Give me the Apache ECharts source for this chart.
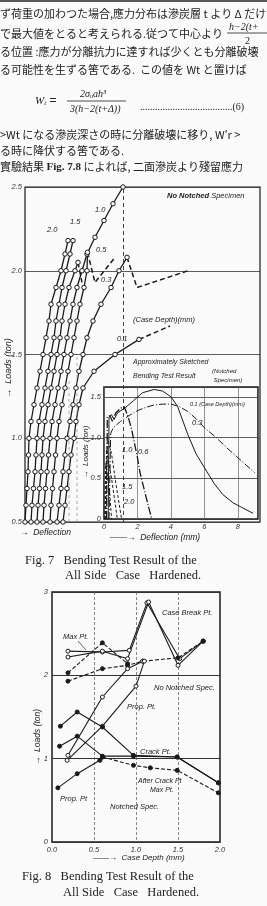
<!DOCTYPE html>
<html><head><meta charset="utf-8">
<script src="https://cdn.jsdelivr.net/npm/echarts@6/dist/echarts.min.js"></script>
<style>html,body{margin:0;padding:0;background:#fbfbfb;}#c{width:267px;height:906px;}</style>
</head><body><div id="c"></div>
<script>
// ---------- Fig.7 main (No Notched Specimen): load (ton) vs deflection (arbitrary units) ----------
const loadsA = [0.5,0.6,0.7,0.8,0.9,1.0,1.1,1.2,1.3,1.4,1.5,1.6,1.7,1.8,1.9,2.0,2.1,2.18];
const deflCD20 = [0,1,2,3,3.5,4,6,9,12,15,18,21,24,26,31,36,40,43];
const deflCD15 = [6,7,8.5,10,11,12,14,17,20,23,26,29,31,34,37,41,45,48];
const loadsCD12 = [0.5,0.6,0.7,0.8,0.9,1.0,1.1,1.2,1.3,1.4,1.5,1.6,1.7,1.8,1.9,2.0,2.05];
const deflCD12 = [12,13,14.5,16,17,18,20,23,26,29,32,35,37,40,44,50,53];
const loadsCD10 = [0.5,0.6,0.7,0.8,0.9,1.0,1.1,1.2,1.3,1.4,1.5,1.6,1.7,1.8,1.9,2.0,2.1,2.2,2.3,2.4,2.5];
const deflCD10 = [18,19,20.5,22,23.5,25,27,30,33,36,39,42,45,48,52,57,62,70,79,88,98];
const loadsCD05 = [0.5,0.6,0.7,0.8,0.9,1.0,1.1,1.2,1.3,1.4,1.5,1.6,1.7,1.8,1.9,2.0,2.11];
const deflCD05 = [25,26,27.5,29,30.5,32,34,37,40,43,46,49,52,55,59,62,62.5];
const loadsCD03 = [0.5,0.6,0.7,0.8,0.9,1.0,1.1,1.2,1.3,1.4,1.5,1.6,1.7,1.8,1.9,2.0,2.08];
const deflCD03 = [32,34,36,38,40,42,45,48,51,54,58,62,68,76,86,94,102];
const loadsCD01 = [0.5,0.6,0.7,0.8,0.9,1.0,1.1,1.2,1.3,1.4,1.5,1.59];
const deflCD01 = [38,40,42,44,46,49,51,54,58,69,90,114];
const tailCD12 = [[53,2.05],[57,1.93]];
const tailCD05 = [[62.5,2.11],[70,1.93],[90,2.08]];
const tailCD03 = [[102,2.08],[112,1.90],[163,2.0]];
const tailCD01 = [[114,1.59],[145,1.67]];
const guideA = [[44,0.5],[44,1.35]];
const guideB = [[52,0.5],[52,1.5]];
const guideDefl = [98];
const mainLoadTicks = ['0.5','1.0','1.5','2.0','2.5'];

// ---------- Fig.7 inset (Notched Specimen): deflection (mm) vs load (ton) ----------
const insCD01 = [[0.3,0],[0.4,1.05],[0.55,1.12],[1.0,1.2],[1.5,1.27],[2.0,1.33],[2.5,1.37],[3.0,1.4],[3.5,1.41],[4.0,1.41],[4.5,1.38],[5.0,1.32],[5.5,1.23],[6.0,1.12],[6.7,1.0],[7.3,0.88],[7.9,0.77],[8.5,0.66],[9.0,0.57]];
const insCD03 = [[0.25,0],[0.3,1.25],[0.45,1.28],[0.6,1.22],[0.8,1.3],[1.3,1.37],[1.75,1.45],[2.3,1.55],[3.0,1.59],[3.5,1.57],[4.0,1.5],[4.4,1.38],[5.0,1.04],[5.5,0.8],[6.15,0.58],[6.6,0.43],[7.1,0.3],[7.7,0.2],[8.25,0.14],[8.9,0.07]];
const insCD06 = [[0.15,0],[0.2,1.25],[0.35,1.27],[0.5,1.2],[0.7,1.3],[1.0,1.36],[1.2,1.38],[1.45,1.25],[1.65,1.1],[2.0,0.75],[2.15,0.57],[2.5,0.28],[2.85,0]];
const insCD10 = [[0.1,0],[0.2,1.0],[0.3,1.02],[0.45,0.8],[0.7,0.45],[1.05,0]];
const insCD15 = [[0.08,0],[0.15,0.85],[0.25,0.87],[0.45,0.5],[0.8,0]];
const insCD20 = [[0.05,0],[0.1,0.68],[0.2,0.7],[0.35,0.3],[0.45,0]];

// ---------- Fig.8: case depth (mm) vs load (ton) ----------
const f8CaseBreakA = [[0.19,2.29],[0.6,2.28],[0.92,2.3],[1.13,2.87],[1.52,2.2],[1.8,2.41]];
const f8CaseBreakB = [[0.19,2.22],[0.6,2.29],[0.9,2.2],[1.15,2.88],[1.5,2.12],[1.8,2.41]];
const f8MaxA = [[0.19,2.03],[0.6,2.39],[0.9,2.14]];
const f8MaxB = [[0.19,1.93],[0.6,2.08],[0.9,2.12],[1.08,2.17],[1.5,2.21],[1.8,2.41]];
const f8PropA = [[0.19,1.04],[0.6,1.74],[0.9,2.08],[1.08,2.17]];
const f8PropB = [[0.18,0.98],[0.6,1.39],[1.0,1.87],[1.1,2.17]];
const f8CrackA = [[0.1,1.39],[0.3,1.56],[0.6,1.38],[0.97,1.04],[1.49,1.02],[1.98,0.71]];
const f8CrackB = [[0.09,1.15],[0.3,1.27],[0.6,1.03],[0.97,1.03],[1.49,1.02],[1.98,0.71]];
const f8AfterCrack = [[0.6,1.02],[0.97,0.92],[1.17,0.89],[1.49,0.86],[1.98,0.59]];
const f8PropNotched = [[0.07,0.65],[0.3,0.82],[0.57,0.98],[0.6,1.02]];

const zip = (xs, ys) => xs.map((x,i)=>[x, ys[i]]);
const INK = '#1a1a1a';
const CJK = '"Noto Sans CJK JP"';
const SERIF = '"Liberation Serif"';
const ITAL = 'italic 7.5px "Liberation Sans"';

function curve(data, opt) {
  return Object.assign({type:'line', data, xAxisIndex:0, yAxisIndex:0, animation:false,
    symbol:'circle', symbolSize:4.5, showSymbol:true,
    itemStyle:{color:'#fbfbfb', borderColor:INK, borderWidth:1},
    lineStyle:{color:INK, width:1.3}, z:3}, opt||{});
}
function tail(data) {
  return {type:'line', data, xAxisIndex:0, yAxisIndex:0, animation:false, symbol:'none',
    lineStyle:{color:INK, width:1.5, type:[5,3]}, z:3};
}
function ins(data, type, w) {
  return {type:'line', data, xAxisIndex:1, yAxisIndex:1, animation:false, symbol:'none', z:7,
    lineStyle:{color:INK, width:w||1, type:type}};
}
function f8(data, filled, dash) {
  return {type:'line', data, xAxisIndex:2, yAxisIndex:2, animation:false, symbol:'circle', symbolSize:4,
    itemStyle:{color: filled?INK:'#fbfbfb', borderColor:INK, borderWidth:1},
    lineStyle:{color:INK, width:1.1, type: dash||'solid'}, z:3};
}
function T(x,y,text,font,extra) {
  const e = {type:'text', x, y, z:20, style:{text, font, fill:'#222', align:'left', verticalAlign:'middle'}};
  if (extra) { Object.assign(e, extra.el||{}); Object.assign(e.style, extra.style||{}); }
  return e;
}
function L(x1,y1,x2,y2,w,dash) {
  return {type:'line', z:20, shape:{x1,y1,x2,y2}, style:{stroke:'#222', lineWidth:w||1, lineDash:dash||null}};
}

const jp = '11px ' + CJK;
const graphics = [
  L(0,1,267,1,1.5),
  T(0,14,'ず荷重の加わつた場合,應力分布は滲炭層 t より Δ だけ', jp),
  T(0,34,'で最大値をとると考えられる.従つて中心より', jp),
  T(229,27,'h−2(t+', 'italic 10px '+SERIF),
  L(227,33,267,33,0.8),
  T(245,41,'2', '10px '+SERIF),
  T(0,52,'る位置 :應力が分離抗力に達すれば少くとも分離破壊', jp),
  T(0,70,'る可能性を生ずる筈である.  この値を Wt と置けば', jp),
  T(35,101,'{w|W}{s|t} =', '', {style:{rich:{w:{font:'italic 11px '+SERIF, fill:'#222'}, s:{font:'italic 7px '+SERIF, fill:'#222', padding:[5,0,0,0]}}}}),
  T(80,94,'2σ{s|u}ah³', 'italic 10px '+SERIF, {style:{rich:{s:{font:'italic 6px '+SERIF, fill:'#222', padding:[5,0,0,0]}}}}),
  L(67,101,126,101,0.8),
  T(70,109,'3(h−2(t+Δ))', 'italic 10px '+SERIF),
  T(140,107,'.....................................(6)', '10px '+SERIF),
  T(0,135,'>Wt になる滲炭深さの時に分離破壊に移り, W′r >', jp),
  T(0,151,'る時に降伏する筈である.', jp),
  T(0,167,'實驗結果 {b|Fig. 7.8} によれば, 二面滲炭より殘留應力', jp, {style:{rich:{b:{font:'bold 11px '+SERIF, fill:'#222'}}}}),

  // Fig.7 annotations
  T(167,196,'{b|No Notched} Specimen', 'italic 7.5px "Liberation Sans"', {style:{rich:{b:{font:'bold italic 7.5px "Liberation Sans"', fill:'#222'}}}}),
  T(47,230,'2.0', ITAL), T(70,222,'1.5', ITAL), T(95,210,'1.0', ITAL), T(96,250,'0.5', ITAL), T(101,280,'0.3', ITAL), T(117,339,'0.1', ITAL),
  T(133,320,'(Case Depth)(mm)', ITAL),
  T(133,362,'Approximately Sketched', 'italic 7px "Liberation Sans"'),
  T(133,376,'Bending Test Result', 'italic 7px "Liberation Sans"'),
  T(212,371,'(Notched', 'italic 6px "Liberation Sans"'),
  T(212,380,' Specimen)', 'italic 6px "Liberation Sans"'),
  T(8,368,'→  Loads (ton)', 'italic 9px "Liberation Sans"', {el:{rotation:Math.PI/2}, style:{align:'center'}}),
  T(20,533,'→  Deflection', 'italic 8.5px "Liberation Sans"'),
  T(86,452,'→  Loads (ton)', 'italic 8px "Liberation Sans"', {el:{rotation:Math.PI/2}, style:{align:'center'}}),
  T(110,538,'——→  Deflection (mm)', 'italic 8.5px "Liberation Sans"'),
  T(190,404,'0.1 (Case Depth)(mm)', 'italic 5.5px "Liberation Sans"', {el:{z:30}}),
  T(192,423,'0.3', ITAL), T(138,452,'0.6', ITAL), T(122,450,'1.0', ITAL), T(122,487,'1.5', ITAL), T(124,502,'2.0', ITAL),
  T(25,561,'Fig. 7   Bending Test Result of the', '12.5px '+SERIF),
  T(65,576,'All Side   Case   Hardened.', '12.5px '+SERIF),

  // Fig.8 annotations
  T(162,613,'Case Break Pt.', ITAL),
  T(63,637,'Max Pt.', ITAL),
  L(78,641,86,650,0.7),
  T(154,688,'No Notched Spec.', ITAL),
  T(127,707,'Prop. Pt.', ITAL),
  T(140,752,'Crack Pt.', ITAL),
  T(138,781,'After Crack Pt', 'italic 7px "Liberation Sans"'),
  T(150,790,'Max Pt.', 'italic 7px "Liberation Sans"'),
  T(60,799,'Prop. Pt', ITAL),
  T(110,807,'Notched Spec.', ITAL),
  T(38,737,'→  Loads (ton)', 'italic 8.5px "Liberation Sans"', {el:{rotation:Math.PI/2}, style:{align:'center'}}),
  T(93,858,'——→  Case Depth (mm)', 'italic 8px "Liberation Sans"'),
  T(22,877,'Fig. 8   Bending Test Result of the', '12.5px '+SERIF),
  T(63,893,'All Side   Case   Hardened.', '12.5px '+SERIF)
];

const axLbl = {fontStyle:'italic', fontSize:7.5, fontFamily:'Liberation Sans', color:'#333'};
const option = {
  backgroundColor:'#fbfbfb',
  animation:false,
  grid:[
    {left:25, top:187, width:235, height:335, show:true, borderColor:INK, borderWidth:1.2, backgroundColor:'transparent'},
    {left:104, top:387, width:154, height:132, show:true, borderColor:INK, borderWidth:1.6, backgroundColor:'#fbfbfb', z:5},
    {left:52, top:592, width:168, height:250, show:true, borderColor:INK, borderWidth:1.5, backgroundColor:'transparent'}
  ],
  xAxis:[
    {gridIndex:0, type:'value', min:0, max:235, axisLabel:{show:false}, axisTick:{show:false}, axisLine:{show:false}, splitLine:{show:false}},
    {gridIndex:1, type:'value', min:0, max:9.2, interval:2, z:6, axisLine:{show:false}, axisTick:{show:false},
      axisLabel:Object.assign({margin:4, showMaxLabel:false, formatter:v=>String(v)}, axLbl),
      splitLine:{show:true, lineStyle:{color:'#666', width:0.7}}},
    {gridIndex:2, type:'value', min:0, max:2, interval:0.5, axisLine:{show:false}, axisTick:{show:false},
      axisLabel:Object.assign({margin:4, formatter:v=>v.toFixed(1)}, axLbl),
      splitLine:{show:true, lineStyle:{color:'#555', width:0.7, type:[3,2]}}}
  ],
  yAxis:[
    {gridIndex:0, type:'value', min:0.5, max:2.5, interval:0.5, axisLine:{show:false}, axisTick:{show:false},
      axisLabel:Object.assign({margin:3, formatter:v=>mainLoadTicks[Math.round((v-0.5)/0.5)]}, axLbl),
      splitLine:{show:true, lineStyle:{color:'#333', width:0.8}}},
    {gridIndex:1, type:'value', min:0, max:1.62, interval:0.5, z:6, axisLine:{show:false}, axisTick:{show:false},
      axisLabel:Object.assign({margin:3, showMaxLabel:false, formatter:v=>v===0?'0':v.toFixed(1)}, axLbl),
      splitLine:{show:true, lineStyle:{color:'#333', width:0.8}}},
    {gridIndex:2, type:'value', min:0, max:3, interval:1, axisLine:{show:false}, axisTick:{show:false},
      axisLabel:Object.assign({margin:4}, axLbl),
      splitLine:{show:true, lineStyle:{color:'#333', width:1}}}
  ],
  series:[
    curve(zip(deflCD20, loadsA)),
    curve(zip(deflCD15, loadsA)),
    curve(zip(deflCD12, loadsCD12)),
    curve(zip(deflCD10, loadsCD10), {markLine:{silent:true, symbol:'none', animation:false, label:{show:false},
      lineStyle:{color:'#444', width:1, type:[4,3]}, data:guideDefl.map(v=>({xAxis:v}))}}),
    curve(zip(deflCD05, loadsCD05)),
    curve(zip(deflCD03, loadsCD03)),
    curve(zip(deflCD01, loadsCD01)),
    tail(tailCD12), tail(tailCD05), tail(tailCD03), tail(tailCD01),
    {type:'line', data:guideA, xAxisIndex:0, yAxisIndex:0, symbol:'none', lineStyle:{color:'#999', width:0.8, type:[3,3]}},
    {type:'line', data:guideB, xAxisIndex:0, yAxisIndex:0, symbol:'none', lineStyle:{color:'#999', width:0.8, type:[3,3]}},

    ins(insCD01, [7,2,1,2], 1),
    ins(insCD03, 'solid', 1),
    ins(insCD06, [8,2,1,2], 1.3),
    ins(insCD10, [3,2], 1),
    ins(insCD15, [3,2], 1),
    ins(insCD20, [3,2], 1),

    f8(f8CaseBreakA, false), f8(f8CaseBreakB, false), f8(f8MaxA, true, [4,2]), f8(f8MaxB, true, [4,2]),
    f8(f8PropA, false), f8(f8PropB, false),
    f8(f8CrackA, true), f8(f8CrackB, true),
    f8(f8AfterCrack, true, [4,2]), f8(f8PropNotched, true)
  ],
  graphic: graphics
};
const chart = echarts.init(document.getElementById('c'), null, {renderer:'canvas'});
chart.setOption(option);
</script></body></html>
